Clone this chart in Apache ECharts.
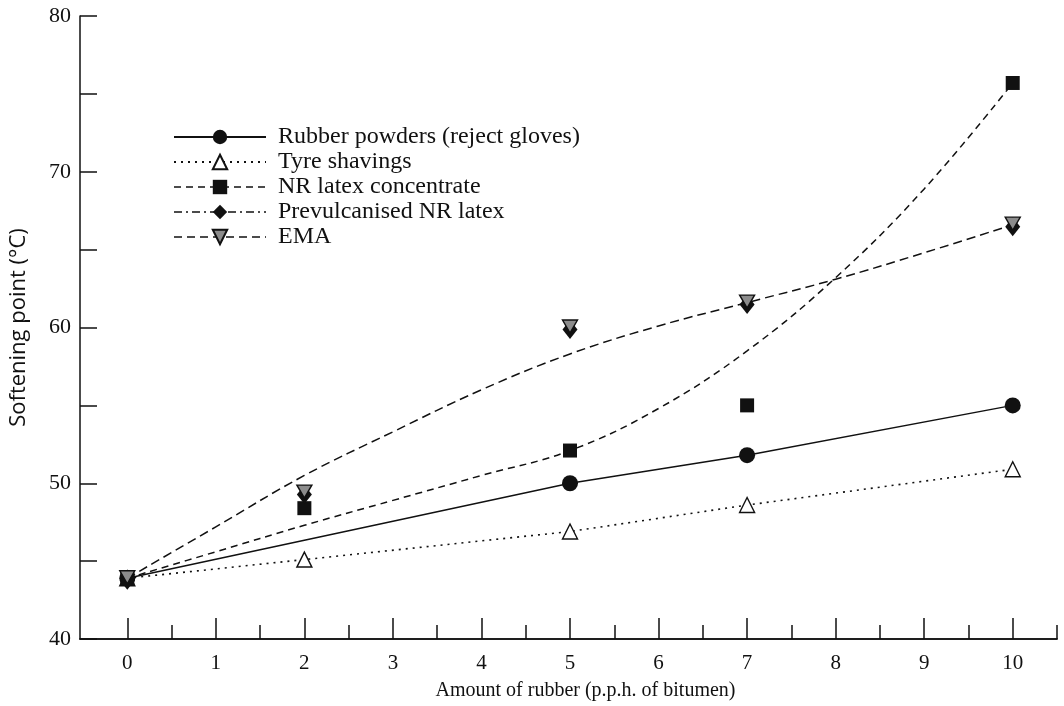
<!DOCTYPE html>
<html>
<head>
<meta charset="utf-8">
<title>Softening point vs amount of rubber</title>
<script src="https://cdn.jsdelivr.net/npm/echarts@6/dist/echarts.min.js"></script>
<style>
  html, body { margin: 0; padding: 0; background: #ffffff; }
  #chart { width: 1064px; height: 706px; }
</style>
</head>
<body>
<div id="chart"></div>
<script>
// Amount of rubber (p.p.h. of bitumen)
const xMajorTicks = [0, 1, 2, 3, 4, 5, 6, 7, 8, 9, 10];
const xMinorTicks = [0.5, 1.5, 2.5, 3.5, 4.5, 5.5, 6.5, 7.5, 8.5, 9.5, 10.5];
const yLabelValues = [40, 50, 60, 70, 80];

// Measured softening points (°C)
const rubberX = [0, 5, 7, 10];
const rubberY = [43.9, 50.0, 51.8, 55.0];

const tyreX = [0, 2, 5, 7, 10];
const tyreY = [43.9, 45.1, 46.9, 48.6, 50.9];

const nrX = [0, 2, 5, 7, 10];
const nrY = [43.9, 48.4, 52.1, 55.0, 75.7];

const prevulcX = [0, 2, 5, 7, 10];
const prevulcY = [43.9, 49.4, 60.0, 61.6, 66.6];

const emaX = [0, 2, 5, 7, 10];
const emaY = [43.9, 49.4, 60.0, 61.6, 66.6];

// Fitted trend curves
const nrFitX = [0, 1, 2, 3, 4, 5, 6, 7, 8, 9, 10];
const nrFitY = [43.9, 45.6, 47.3, 48.9, 50.5, 52.1, 54.8, 58.5, 63.2, 68.9, 75.7];

const emaFitX = [0, 1, 2, 3, 4, 5, 6, 7, 8, 9, 10];
const emaFitY = [43.9, 47.2, 50.5, 53.3, 56.0, 58.3, 60.1, 61.6, 63.1, 64.8, 66.6];

const names = [
  'Rubber powders (reject gloves)',
  'Tyre shavings',
  'NR latex concentrate',
  'Prevulcanised NR latex',
  'EMA'
];

const zip = (xs, ys) => xs.map((x, i) => [x, ys[i]]);

const INK = '#111111';
const SERIF = '"Liberation Serif", "DejaVu Serif", serif';
const emaSymbol = 'path://M0,0L20,0L10,18Z';

const chart = echarts.init(document.getElementById('chart'), null, { renderer: 'canvas' });

const xBase = {
  type: 'value',
  position: 'bottom',
  min: -0.534,
  max: 10.5,
  splitLine: { show: false },
  axisLine: { show: true, onZero: false, lineStyle: { color: INK, width: 1.5 } }
};

chart.setOption({
  backgroundColor: '#ffffff',
  animation: false,
  grid: { left: 80, right: 7, top: 16, bottom: 63, containLabel: false },
  legend: {
    orient: 'vertical',
    left: 168,
    top: 120,
    itemWidth: 92,
    itemHeight: 18,
    itemGap: 1,
    selectedMode: false,
    textStyle: { fontFamily: SERIF, fontSize: 24, lineHeight: 22, color: INK, padding: [0, 0, 0, 7] },
    data: [
      { name: names[0] },
      { name: names[1] },
      { name: names[2], lineStyle: { width: 1.5, color: INK, type: [7, 5], opacity: 1 } },
      { name: names[3], lineStyle: { width: 1.5, color: INK, type: [8, 4, 2, 4], opacity: 1 } },
      { name: names[4], lineStyle: { width: 1.5, color: INK, type: [8, 5], opacity: 1 } }
    ]
  },
  xAxis: [
    Object.assign({}, xBase, {
      axisTick: { show: true, inside: true, length: 21, customValues: xMajorTicks,
                  lineStyle: { color: INK, width: 1.5 } },
      axisLabel: { show: true, customValues: xMajorTicks, margin: 14,
                   fontFamily: SERIF, fontSize: 21, color: INK },
      name: 'Amount of rubber (p.p.h. of bitumen)',
      nameLocation: 'middle',
      nameGap: 42,
      nameTextStyle: { fontFamily: SERIF, fontSize: 20, color: INK, padding: [0, 0, 0, 34] }
    }),
    Object.assign({}, xBase, {
      axisTick: { show: true, inside: true, length: 14, customValues: xMinorTicks,
                  lineStyle: { color: INK, width: 1.5 } },
      axisLabel: { show: false }
    })
  ],
  yAxis: {
    type: 'value',
    min: 40,
    max: 80,
    interval: 5,
    splitLine: { show: false },
    axisLine: { show: true, onZero: false, lineStyle: { color: INK, width: 1.5 } },
    axisTick: { show: true, inside: true, length: 17, lineStyle: { color: INK, width: 1.5 } },
    axisLabel: { customValues: yLabelValues, margin: 9, fontFamily: SERIF, fontSize: 22, color: INK },
    name: 'Softening point (°C)',
    nameLocation: 'middle',
    nameGap: 50,
    nameTextStyle: { fontFamily: '"Open Sans", "Lato", sans-serif', fontSize: 22, color: INK }
  },
  series: [
    {
      name: 'nr-fit',
      type: 'line',
      smooth: 0.4,
      symbol: 'none',
      silent: true,
      data: zip(nrFitX, nrFitY),
      lineStyle: { color: INK, width: 1.5, type: [7, 5] },
      z: 1
    },
    {
      name: 'ema-fit',
      type: 'line',
      smooth: 0.4,
      symbol: 'none',
      silent: true,
      data: zip(emaFitX, emaFitY),
      lineStyle: { color: INK, width: 1.5, type: [9, 5] },
      z: 1
    },
    {
      name: names[1],
      type: 'line',
      data: zip(tyreX, tyreY),
      symbol: 'triangle',
      symbolSize: 15,
      lineStyle: { color: INK, width: 1.6, type: [2, 5] },
      itemStyle: { color: '#ffffff', borderColor: INK, borderWidth: 1.4 },
      z: 2
    },
    {
      name: names[0],
      type: 'line',
      data: zip(rubberX, rubberY),
      symbol: 'circle',
      symbolSize: 16,
      lineStyle: { color: INK, width: 1.5, type: 'solid' },
      itemStyle: { color: INK, borderColor: INK, borderWidth: 0 },
      z: 3
    },
    {
      name: names[2],
      type: 'line',
      data: zip(nrX, nrY),
      symbol: 'rect',
      symbolSize: 14,
      lineStyle: { width: 0, opacity: 0 },
      itemStyle: { color: INK, borderWidth: 0 },
      z: 4
    },
    {
      name: names[3],
      type: 'line',
      data: zip(prevulcX, prevulcY),
      symbol: 'diamond',
      symbolSize: [15, 19],
      symbolOffset: [0, 2],
      lineStyle: { width: 0, opacity: 0 },
      itemStyle: { color: INK, borderWidth: 0 },
      z: 5
    },
    {
      name: names[4],
      type: 'line',
      data: zip(emaX, emaY),
      symbol: emaSymbol,
      symbolSize: [15, 13],
      symbolOffset: [0, -1],
      lineStyle: { width: 0, opacity: 0 },
      itemStyle: { color: '#8c8c8c', borderColor: INK, borderWidth: 1.4 },
      z: 6
    }
  ]
});
</script>
</body>
</html>
